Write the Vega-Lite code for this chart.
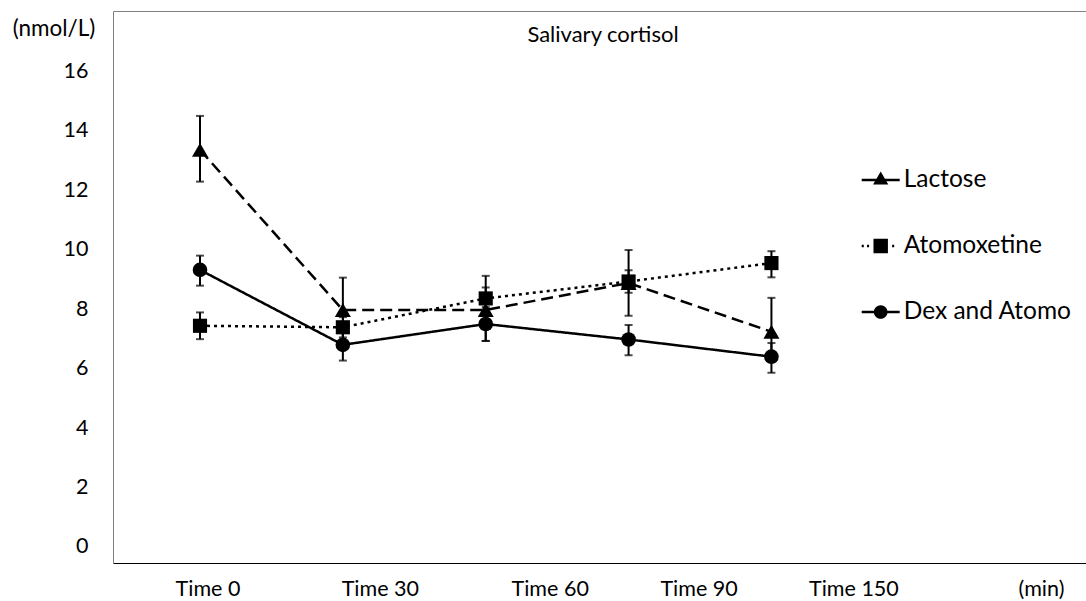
{
  "$schema": "https://vega.github.io/schema/vega-lite/v6.json",
  "width": 973,
  "height": 552,
  "autosize": {"type": "none"},
  "padding": {"left": 113, "top": 11, "right": 0, "bottom": 38},
  "background": "white",
  "config": {
    "view": {"stroke": null},
    "font": "Lato",
    "axis": {"labelFont": "Lato", "titleFont": "Lato", "labelColor": "black", "titleColor": "black", "grid": false}
  },
  "title": {"text": "Salivary cortisol", "anchor": "middle", "frame": "group", "offset": -53, "baseline": "alphabetic", "dx": 3.5, "font": "Lato", "fontSize": 22, "fontWeight": "normal", "color": "black"},
  "data": {"values": [
    {"series": "Lactose", "time": "Time 0", "mean": 13.36, "lo": 12.29, "hi": 14.50},
    {"series": "Lactose", "time": "Time 30", "mean": 7.97, "lo": 6.87, "hi": 9.06},
    {"series": "Lactose", "time": "Time 60", "mean": 7.97, "lo": 6.93, "hi": 9.12},
    {"series": "Lactose", "time": "Time 90", "mean": 8.88, "lo": 7.78, "hi": 9.99},
    {"series": "Lactose", "time": "Time 150", "mean": 7.24, "lo": 6.30, "hi": 8.38},
    {"series": "Atomoxetine", "time": "Time 0", "mean": 7.44, "lo": 6.99, "hi": 7.89},
    {"series": "Atomoxetine", "time": "Time 30", "mean": 7.39, "lo": 7.05, "hi": 7.73},
    {"series": "Atomoxetine", "time": "Time 60", "mean": 8.36, "lo": 7.98, "hi": 8.73},
    {"series": "Atomoxetine", "time": "Time 90", "mean": 8.93, "lo": 8.55, "hi": 9.31},
    {"series": "Atomoxetine", "time": "Time 150", "mean": 9.55, "lo": 9.07, "hi": 9.95},
    {"series": "Dex and Atomo", "time": "Time 0", "mean": 9.32, "lo": 8.79, "hi": 9.80},
    {"series": "Dex and Atomo", "time": "Time 30", "mean": 6.80, "lo": 6.27, "hi": 7.33},
    {"series": "Dex and Atomo", "time": "Time 60", "mean": 7.50, "lo": 6.93, "hi": 8.07},
    {"series": "Dex and Atomo", "time": "Time 90", "mean": 6.98, "lo": 6.45, "hi": 7.47},
    {"series": "Dex and Atomo", "time": "Time 150", "mean": 6.40, "lo": 5.86, "hi": 6.86}
  ]},
  "resolve": {"axis": {"x": "independent", "y": "independent"}},
  "layer": [
    {
      "mark": {"type": "point", "filled": true, "size": 0, "fill": "black", "strokeWidth": 0},
      "encoding": {
        "x": {"field": "time", "type": "ordinal", "scale": {"type": "point", "domain": ["Time 0", "Time 30", "Time 60", "Time 90", "Time 150", "(min)"], "padding": 0.9055, "align": 0.3363}, "axis": null},
        "y": {"field": "mean", "type": "quantitative", "scale": {"domain": [-0.54, 18.03], "nice": false, "zero": false}, "axis": null},
        "shape": {
          "field": "series", "type": "nominal",
          "scale": {"domain": ["Lactose", "Atomoxetine", "Dex and Atomo"],
                    "range": ["M-1,-0.066H1V0.066H-1ZM0,-0.45L0.4,0.24L-0.4,0.24Z",
                              "M-1,-0.066H-0.89V0.066H-1ZM-0.72,-0.066H-0.61V0.066H-0.72ZM0.6,-0.066H0.71V0.066H0.6ZM-0.38,-0.38H0.38V0.38H-0.38Z",
                              "M-1,-0.066H1V0.066H-1ZM-0.36,0A0.36,0.36,0,1,1,0.36,0A0.36,0.36,0,1,1,-0.36,0Z"]},
          "legend": {"title": null, "orient": "none", "legendX": 748.7, "legendY": 150, "symbolSize": 1444, "symbolStrokeWidth": 0, "symbolFillColor": "black", "symbolOpacity": 1, "labelFont": "Lato", "labelFontSize": 24.5, "labelColor": "black", "labelOffset": 4, "rowPadding": 35, "padding": 0, "labelLimit": 300,
                     "encode": {"symbols": {"update": {"fill": {"value": "black"}, "strokeWidth": {"value": 0}, "opacity": {"value": 1}}}}}
        }
      }
    },
    {
      "mark": {"type": "line", "color": "black", "strokeWidth": 2.5, "strokeCap": "butt"},
      "encoding": {
        "x": {"field": "time", "type": "ordinal", "scale": {"type": "point", "domain": ["Time 0", "Time 30", "Time 60", "Time 90", "Time 150", "(min)"], "padding": 0.9055, "align": 0.3363},
              "axis": {"orient": "bottom", "title": null,
                       "labelAngle": 0, "labelBaseline": "alphabetic", "labelPadding": 32, "labelFontSize": 21.5, "labelOverlap": false, "ticks": false, "tickSize": 0, "domainColor": "black", "domainWidth": 1,
                       "labelOffset": {"condition": [{"test": "datum.value === 'Time 30'", "value": 37}, {"test": "datum.value === 'Time 60'", "value": 64}, {"test": "datum.value === 'Time 90'", "value": 70}, {"test": "datum.value === 'Time 150'", "value": 82}, {"test": "datum.value === '(min)'", "value": 126.7}], "value": 7.5}}},
        "y": {"field": "mean", "type": "quantitative", "scale": {"domain": [-0.54, 18.03], "nice": false, "zero": false},
              "axis": {"values": [0, 2, 4, 6, 8, 10, 12, 14, 16], "title": "(nmol/L)", "titleAngle": 0, "titleX": -59.5, "titleY": 17, "titleAlign": "center", "titleBaseline": "middle", "titleFontSize": 22.5, "titleFontWeight": "normal",
                       "labelFontSize": 21.5, "labelPadding": 25, "ticks": false, "tickSize": 0, "domainColor": "#808080", "domainWidth": 1, "labelBaseline": "middle"}},
        "strokeDash": {"field": "series", "type": "nominal", "scale": {"domain": ["Lactose", "Atomoxetine", "Dex and Atomo"], "range": [[12, 6], [3, 4], [1, 0]]}, "legend": null}
      }
    },
    {
      "mark": {"type": "rule", "color": "black", "strokeWidth": 2},
      "encoding": {
        "x": {"field": "time", "type": "ordinal", "scale": {"type": "point", "domain": ["Time 0", "Time 30", "Time 60", "Time 90", "Time 150", "(min)"], "padding": 0.9055, "align": 0.3363},
              "axis": {"orient": "top", "labels": false, "ticks": false, "title": null, "domainColor": "#808080", "domainWidth": 1}},
        "y": {"field": "lo", "type": "quantitative", "axis": null},
        "y2": {"field": "hi"}
      }
    },
    {
      "mark": {"type": "tick", "color": "black", "size": 8, "thickness": 2},
      "encoding": {
        "x": {"field": "time", "type": "ordinal", "scale": {"type": "point", "domain": ["Time 0", "Time 30", "Time 60", "Time 90", "Time 150", "(min)"], "padding": 0.9055, "align": 0.3363}, "axis": null},
        "y": {"field": "lo", "type": "quantitative", "axis": null}
      }
    },
    {
      "mark": {"type": "tick", "color": "black", "size": 8, "thickness": 2},
      "encoding": {
        "x": {"field": "time", "type": "ordinal", "scale": {"type": "point", "domain": ["Time 0", "Time 30", "Time 60", "Time 90", "Time 150", "(min)"], "padding": 0.9055, "align": 0.3363}, "axis": null},
        "y": {"field": "hi", "type": "quantitative", "axis": null}
      }
    },
    {
      "transform": [{"filter": "datum.series === 'Lactose'"}],
      "mark": {"type": "point", "shape": "triangle-up", "size": 256, "filled": true, "color": "black", "opacity": 1},
      "encoding": {
        "x": {"field": "time", "type": "ordinal", "scale": {"type": "point", "domain": ["Time 0", "Time 30", "Time 60", "Time 90", "Time 150", "(min)"], "padding": 0.9055, "align": 0.3363}, "axis": null},
        "y": {"field": "mean", "type": "quantitative", "axis": null}
      }
    },
    {
      "transform": [{"filter": "datum.series === 'Atomoxetine'"}],
      "mark": {"type": "point", "shape": "square", "size": 200, "filled": true, "color": "black", "opacity": 1},
      "encoding": {
        "x": {"field": "time", "type": "ordinal", "scale": {"type": "point", "domain": ["Time 0", "Time 30", "Time 60", "Time 90", "Time 150", "(min)"], "padding": 0.9055, "align": 0.3363}, "axis": null},
        "y": {"field": "mean", "type": "quantitative", "axis": null}
      }
    },
    {
      "transform": [{"filter": "datum.series === 'Dex and Atomo'"}],
      "mark": {"type": "point", "shape": "circle", "size": 215, "filled": true, "color": "black", "opacity": 1},
      "encoding": {
        "x": {"field": "time", "type": "ordinal", "scale": {"type": "point", "domain": ["Time 0", "Time 30", "Time 60", "Time 90", "Time 150", "(min)"], "padding": 0.9055, "align": 0.3363}, "axis": null},
        "y": {"field": "mean", "type": "quantitative", "axis": null}
      }
    }
  ]
}
